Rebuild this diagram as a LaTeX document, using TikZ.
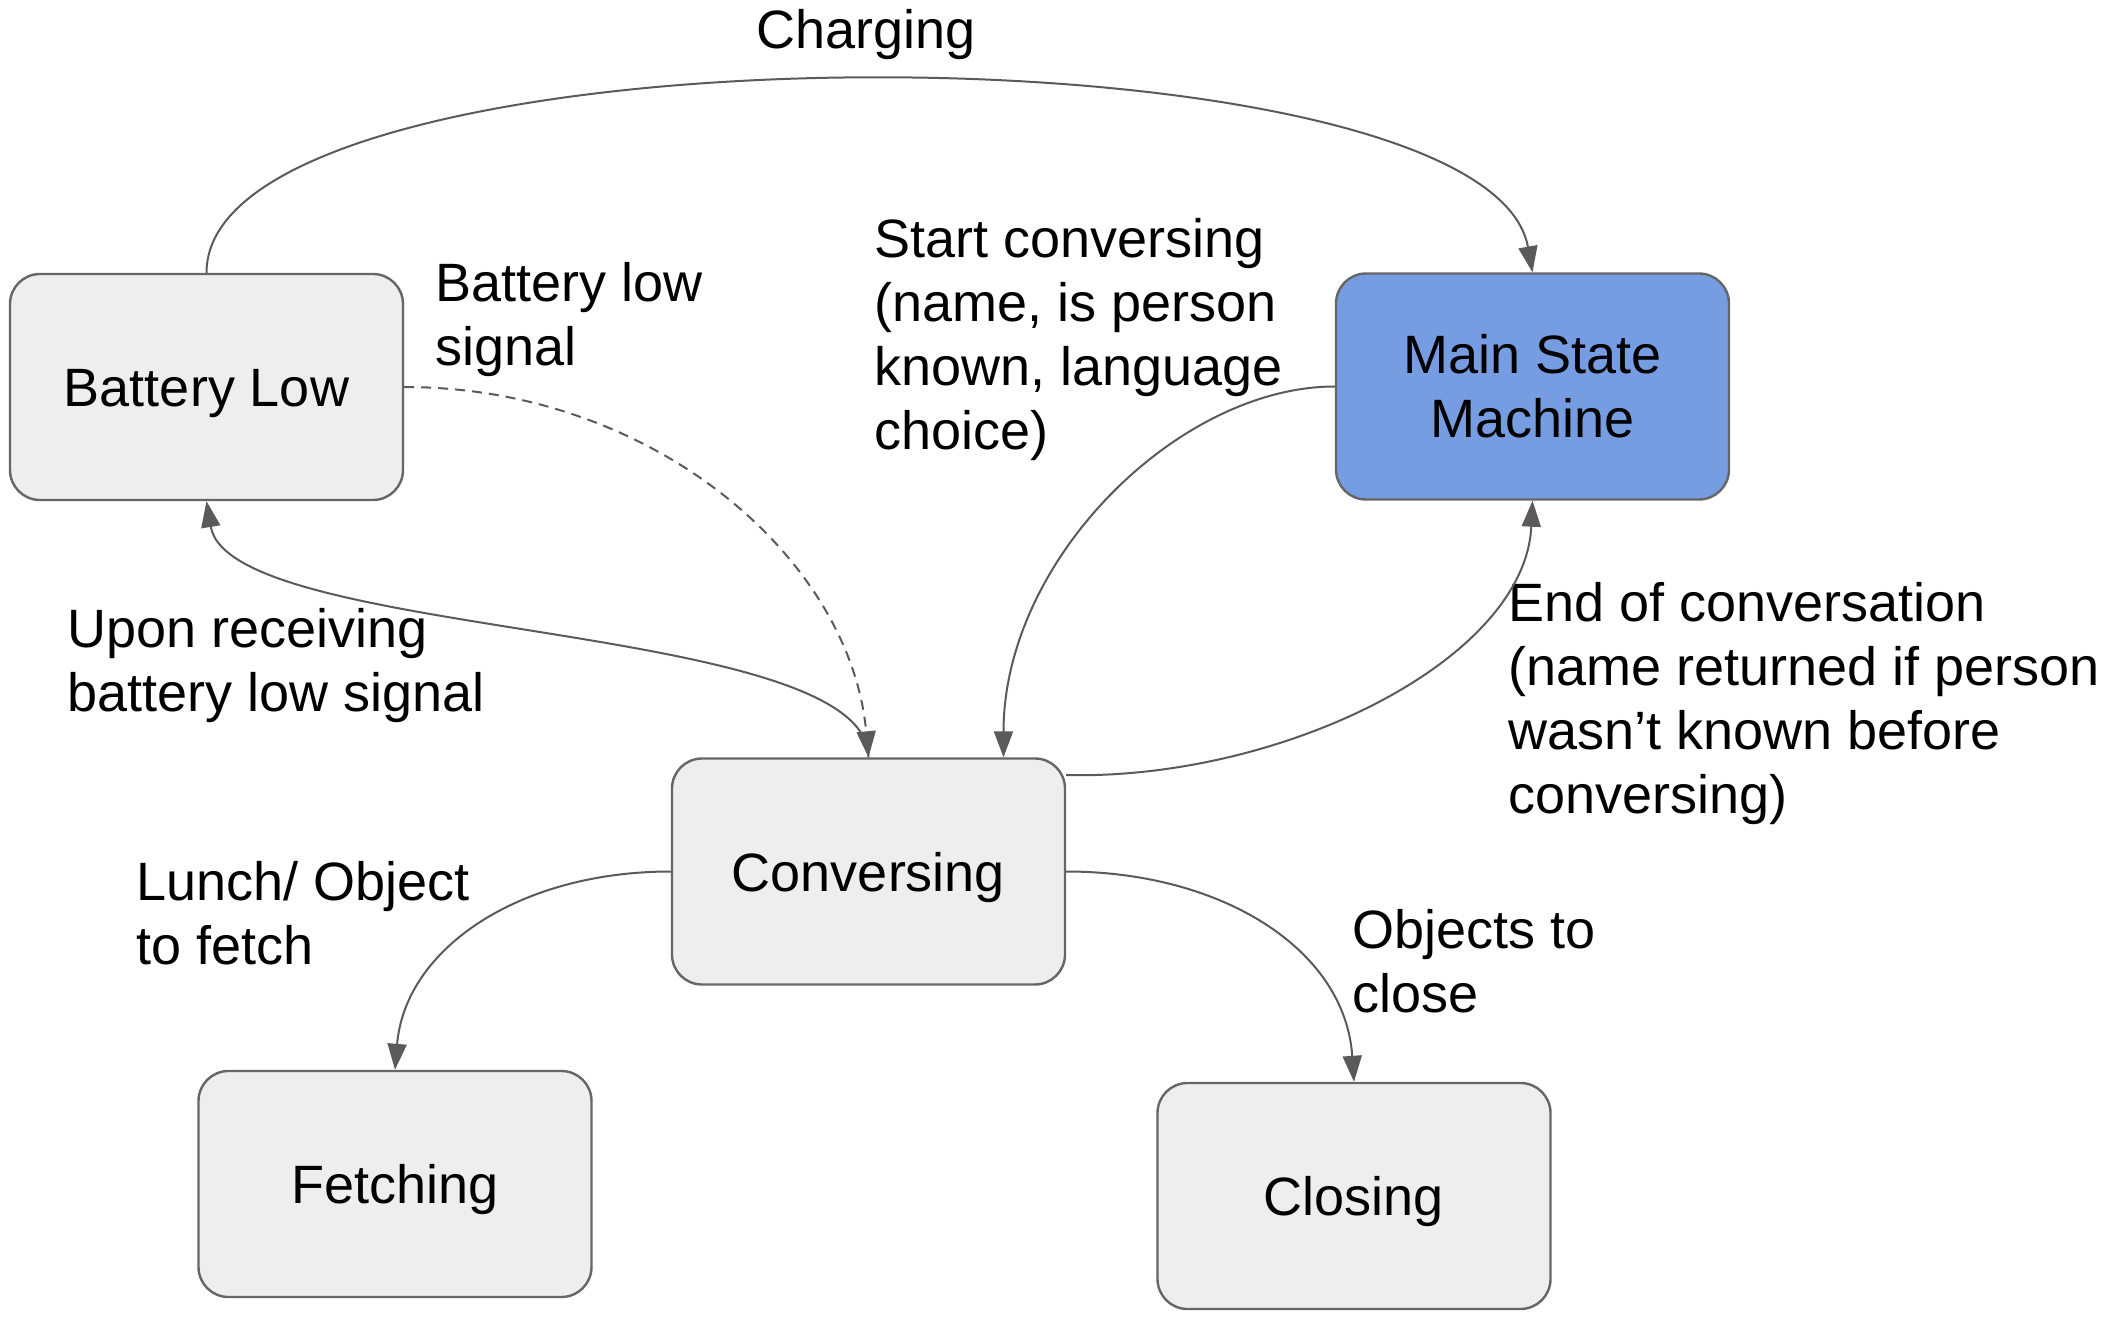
\documentclass[tikz,border=0pt]{standalone}
\usepackage{fontspec}
\setmainfont{Liberation Sans}
\usetikzlibrary{arrows.meta,calc}
\definecolor{boxfill}{HTML}{EEEEEE}
\definecolor{boxline}{HTML}{666666}
\definecolor{mainblue}{RGB}{118,157,225}
\definecolor{edgegray}{HTML}{5A5A5A}
\begin{document}
\begin{tikzpicture}[x=0.5pt,y=-0.5pt,
  statebox/.style={draw=boxline, fill=boxfill, line width=1.2pt, rounded corners=15pt,
     minimum width=196.5pt, minimum height=113pt, inner sep=0pt,
     font=\fontsize{27pt}{32pt}\selectfont, text height=19.5pt, text depth=0pt},
  mainbox/.style={statebox, fill=mainblue, text depth=32pt},
  lbl/.style={inner sep=0pt, anchor=base west, font=\fontsize{27pt}{32pt}\selectfont},
  conn/.style={draw=edgegray, line width=1pt, -{Triangle[length=13pt,width=9.5pt]}},
  dashconn/.style={conn, dash pattern=on 5pt off 3.5pt}
]
\useasboundingbox (0,0) rectangle (2114,1326);

% state boxes
\node[statebox] (bl) at (206.5,387) {Battery Low};
\node[mainbox] (msm) at (1532.5,386.5) {\begin{tabular}[t]{@{}c@{}}Main State\\Machine\end{tabular}};
\node[statebox] (conv) at (868.5,871.5) {Conversing};
\node[statebox] (fetch) at (395,1184) {Fetching};
\node[statebox] (close) at (1354,1196) {Closing};

% labels
\node[lbl, anchor=base] (tcharge) at (866,49) {Charging};
\node[lbl] (tbls) at (435,302) {\begin{tabular}[t]{@{}l@{}}Battery low\\signal\end{tabular}};
\node[lbl] (tstart) at (874,258) {\begin{tabular}[t]{@{}l@{}}Start conversing\\(name, is person\\known, language\\choice)\end{tabular}};
\node[lbl] (tupon) at (67,647) {\begin{tabular}[t]{@{}l@{}}Upon receiving\\battery low signal\end{tabular}};
\node[lbl] (tend) at (1508,621) {\begin{tabular}[t]{@{}l@{}}End of conversation\\(name returned if person\\wasn’t known before\\conversing)\end{tabular}};
\node[lbl] (tlunch) at (136,900) {\begin{tabular}[t]{@{}l@{}}Lunch/ Object\\to fetch\end{tabular}};
\node[lbl] (tobj) at (1352,948) {\begin{tabular}[t]{@{}l@{}}Objects to\\close\end{tabular}};

% connectors
\draw[conn] (bl.north) .. controls +(0,-256) and +(-46,-256) .. (msm.north);
\draw[dashconn] (bl.east) .. controls +(250,0) and +(-18,-198) .. (conv.north);
\draw[conn] (conv.north) .. controls +(0,-138) and +(23.5,140) .. (bl.south);
\draw[conn] (msm.west) .. controls +(-156,0) and +(0,-198) .. ($(conv.north)+(135,0)$);
\draw[conn] (conv.26) .. controls +(215,5) and +(-7.5,160) .. (msm.south);
\draw[conn] (conv.west) .. controls +(-152,0) and +(10,-121) .. (fetch.north);
\draw[conn] (conv.east) .. controls +(155,0) and +(-9,-133) .. (close.north);
\end{tikzpicture}
\end{document}
